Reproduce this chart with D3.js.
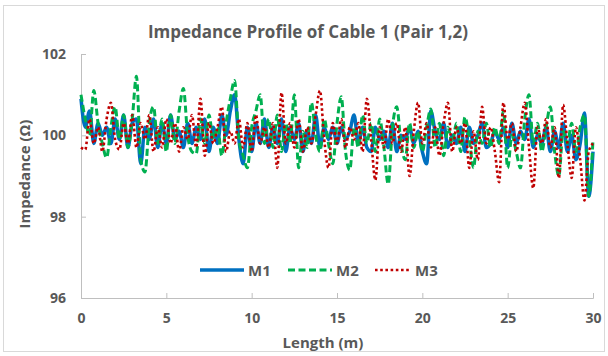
<!DOCTYPE html>
<html>
<head>
<meta charset="utf-8">
<script src="https://cdn.jsdelivr.net/npm/d3@7"></script>
<style>
  html, body { margin: 0; padding: 0; background: #fff; }
  svg text { font-family: 'Open Sans', 'Liberation Sans', sans-serif; font-weight: 700; fill: #595959; }
  .axis path, .axis line { stroke: #bfbfbf; }
</style>
</head>
<body>
<svg id="chart" width="608" height="356"></svg>
<script>
// sample spacing along the cable (m)
const step = 0.25;
const seriesNames = ['M1', 'M2', 'M3'];
const xTicks = [0, 5, 10, 15, 20, 25, 30];
const yTicks = [96, 98, 100, 102];

const m1 = [
  100.9, 100.2, 100.6, 99.8,
  100.3, 100.0, 100.2, 99.8,
  100.4, 99.9, 100.5, 99.7,
  100.3, 100.4, 99.3, 100.2,
  99.9, 100.4, 99.7, 100.3,
  99.8, 100.5, 99.9, 100.1,
  99.7, 100.3, 99.8, 100.2,
  99.9, 100.4, 99.6, 100.2,
  99.8, 100.5, 100.0, 100.6,
  101.0, 99.9, 99.3, 100.2,
  99.6, 100.3, 99.8, 100.4,
  99.7, 100.2, 99.8, 100.4,
  99.6, 100.2, 99.9, 100.3,
  99.6, 100.1, 99.8, 100.5,
  99.7, 100.2, 99.9, 100.2,
  99.8, 100.2, 99.9, 100.1,
  100.5, 99.8, 100.2, 99.7,
  99.6, 100.2, 99.9, 100.1,
  99.7, 100.3, 99.6, 100.0,
  99.9, 100.2, 99.8, 100.1,
  99.6, 99.3, 100.6, 100.1,
  99.9, 100.3, 99.7, 100.0,
  99.8, 100.2, 99.6, 100.2,
  99.8, 100.0, 100.3, 99.7,
  99.8, 100.1, 99.9, 100.2,
  99.7, 100.3, 99.8, 100.1,
  99.9, 100.4, 99.7, 100.0,
  99.8, 100.2, 99.6, 100.1,
  99.7, 100.3, 99.6, 100.0,
  99.4, 99.8, 100.55, 98.5,
  99.6
];

const m2 = [
  101.0, 100.4, 100.0, 101.1,
  100.3, 99.8, 99.45, 100.2,
  100.7, 99.9, 100.5, 99.7,
  100.4, 101.45, 99.4, 99.1,
  100.3, 100.7, 99.8, 100.4,
  99.6, 100.5, 99.8, 100.6,
  101.15, 100.0, 99.6, 99.55,
  100.4, 99.8, 100.5, 99.9,
  100.2, 99.5, 100.3, 100.9,
  101.35, 99.9, 99.5, 99.2,
  100.2, 100.6, 101.0, 99.8,
  100.4, 99.7, 100.5, 99.6,
  100.3, 99.8, 101.0, 99.2,
  100.1, 99.7, 100.8, 100.0,
  99.6, 100.4, 99.8, 99.3,
  100.3, 100.95, 99.6, 99.15,
  100.2, 99.7, 100.5, 99.8,
  100.3, 99.6, 100.4, 99.7,
  98.8, 100.2, 100.7, 99.8,
  99.4, 100.3, 99.7, 100.1,
  99.6, 100.2, 100.65, 99.7,
  100.3, 99.5, 100.2, 99.8,
  100.3, 99.6, 100.45, 99.9,
  99.2, 100.1, 99.8, 100.3,
  99.7, 100.2, 99.8, 100.6,
  99.2, 100.0, 99.6, 99.2,
  100.4, 101.0, 99.8, 100.3,
  99.6, 100.2, 100.7, 99.6,
  99.0, 100.1, 99.8, 100.3,
  99.6, 100.2, 100.5, 98.5,
  99.9
];

const m3 = [
  99.7, 99.65, 100.4, 99.8,
  100.2, 99.6, 100.4, 100.8,
  99.9, 99.65, 100.3, 99.8,
  100.5, 99.7, 100.3, 99.9,
  100.5, 99.6, 100.2, 99.7,
  100.4, 99.8, 100.3, 99.6,
  100.2, 99.9, 100.5, 99.7,
  100.9, 99.5, 100.3, 99.8,
  100.2, 100.7, 99.6, 100.1,
  99.8, 100.4, 99.7, 100.3,
  99.6, 100.5, 99.8, 100.2,
  99.7, 100.3, 99.2, 101.05,
  99.8, 100.3, 99.7, 100.4,
  99.6, 100.2, 99.8, 100.5,
  101.1, 99.9, 99.2, 100.3,
  99.8, 100.4, 99.7, 100.2,
  99.9, 100.3, 99.6, 100.9,
  99.9, 98.9, 100.2, 99.7,
  100.4, 99.8, 100.3, 99.6,
  100.2, 99.0, 100.1, 100.8,
  99.8, 100.3, 99.7, 100.2,
  99.5, 100.3, 100.8, 99.6,
  100.2, 99.8, 100.3, 99.2,
  100.1, 99.4, 100.7, 99.8,
  100.2, 99.6, 98.85, 100.8,
  99.9, 100.3, 99.6, 100.2,
  100.8, 99.7, 98.7, 100.2,
  99.8, 100.4, 99.7, 100.2,
  98.95, 100.75, 99.8, 98.95,
  100.2, 99.4, 98.4, 99.6,
  99.8
];

const seriesValues = [m1, m2, m3];
const seriesColors = ['#0070c0', '#00b050', '#c00000'];
const seriesWidths = [3.5, 3, 2.6];
const seriesDash = [null, '7,3.5', '2.6,2.6'];

const svg = d3.select('#chart');
const width = 608;
const height = 356;

svg.append('rect').attr('x', 3.5).attr('y', 5.5).attr('width', width - 7).attr('height', height - 10)
  .attr('fill', '#fff').attr('stroke', '#d9d9d9');

const x = d3.scaleLinear().domain([0, 30]).range([81, 593]);
const y = d3.scaleLinear().domain([96, 102]).range([298, 54]);

svg.append('g').attr('class', 'axis').attr('transform', 'translate(0,298)')
  .call(d3.axisBottom(x).tickValues(xTicks).tickFormat(d3.format('d')).tickSize(-5).tickPadding(15))
  .call((g) => g.selectAll('text').attr('font-size', 14));
svg.append('g').attr('class', 'axis').attr('transform', 'translate(81,0)')
  .call(d3.axisLeft(y).tickValues(yTicks).tickFormat(d3.format('d')).tickSize(-5).tickSizeOuter(-5).tickPadding(15))
  .call((g) => g.selectAll('text').attr('font-size', 14));
svg.selectAll('.axis text').style('fill', '#595959');

const line = d3.line().x((_, i) => x(i * step)).y((v) => y(v)).curve(d3.curveMonotoneX);

const plot = svg.append('g');
seriesValues.forEach((values, i) => {
  plot.append('path').attr('d', line(values)).attr('fill', 'none')
    .attr('stroke', seriesColors[i]).attr('stroke-width', seriesWidths[i])
    .attr('stroke-dasharray', seriesDash[i]).attr('stroke-linejoin', 'round');
});

svg.append('text').attr('x', 308).attr('y', 38).attr('text-anchor', 'middle').attr('font-size', 17)
  .text('Impedance Profile of Cable 1 (Pair 1,2)');
svg.append('text').attr('transform', 'translate(30,174) rotate(-90)').attr('text-anchor', 'middle').attr('font-size', 15)
  .text('Impedance (Ω)');
svg.append('text').attr('x', 323).attr('y', 348).attr('text-anchor', 'middle').attr('font-size', 15)
  .text('Length (m)');

// legend
const legendX = [200, 288, 375];
const legendLen = [44, 44, 36];
const legend = svg.append('g');
seriesNames.forEach((name, i) => {
  legend.append('line').attr('x1', legendX[i]).attr('x2', legendX[i] + legendLen[i]).attr('y1', 270).attr('y2', 270)
    .attr('stroke', seriesColors[i]).attr('stroke-width', seriesWidths[i]).attr('stroke-dasharray', seriesDash[i]);
  legend.append('text').attr('x', legendX[i] + legendLen[i] + 4).attr('y', 275.5).attr('font-size', 15).text(name);
});
</script>
</body>
</html>
